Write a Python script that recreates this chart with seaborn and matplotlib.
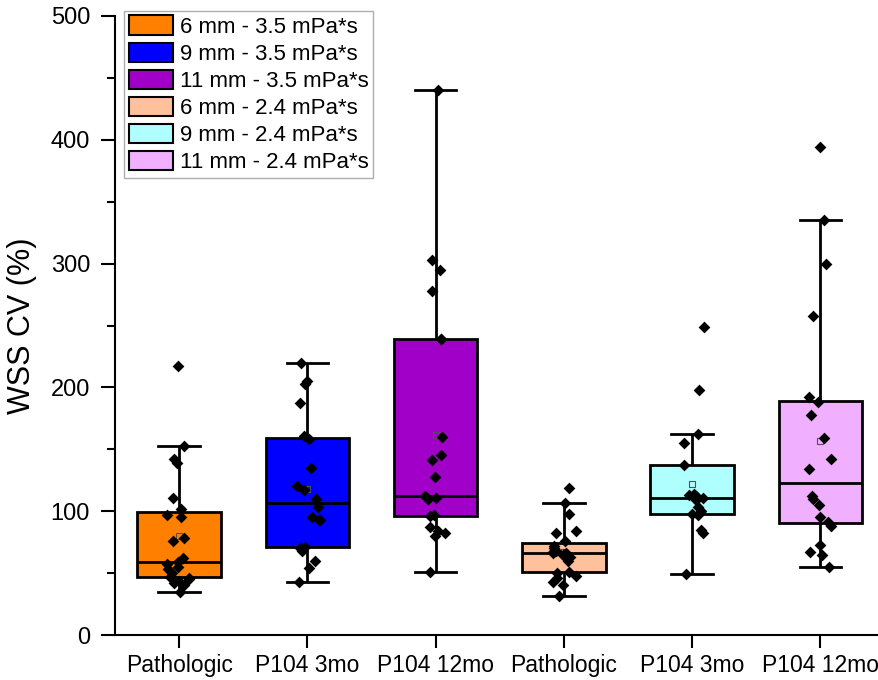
import numpy as np
import pandas as pd
import matplotlib
matplotlib.use("Agg")
import matplotlib.pyplot as plt
from matplotlib.patches import Patch
from matplotlib.ticker import MultipleLocator
import seaborn as sns

# Group names (legend) and the tick label under each box
groups = ["6 mm - 3.5 mPa*s", "9 mm - 3.5 mPa*s", "11 mm - 3.5 mPa*s",
          "6 mm - 2.4 mPa*s", "9 mm - 2.4 mPa*s", "11 mm - 2.4 mPa*s"]
tick_labels = ["Pathologic", "P104 3mo", "P104 12mo",
               "Pathologic", "P104 3mo", "P104 12mo"]
colors = ["#FF8000", "#0000FF", "#A000C8", "#FFC09C", "#B0FFFF", "#F0B0FF"]

# WSS CV (%) per case
cv_6mm_35 = [35, 40, 42, 44, 45, 46, 47, 50, 53, 55, 57, 59, 62, 76, 78, 95,
             97, 102, 111, 139, 142, 153, 217]
cv_9mm_35 = [43, 54, 60, 68, 70, 71, 93, 93, 95, 103, 110, 117, 120, 135, 158,
             161, 187, 203, 205, 220]
cv_11mm_35 = [51, 80, 82, 84, 87, 96, 97, 110, 110, 111, 112, 128, 141, 145,
              160, 239, 239, 278, 295, 303, 440]
cv_6mm_24 = [31.5, 40, 43, 46, 48, 50, 51, 60, 63, 65, 66, 66.5, 67, 68, 69,
             70, 72, 76, 82, 84, 98, 107, 118.5]
cv_9mm_24 = [49, 82, 85, 97, 98, 100, 103, 109, 110.5, 112, 113, 114, 137,
             155, 162, 198, 249]
cv_11mm_24 = [55, 65, 67, 73, 88, 91, 95, 105, 110, 112, 134, 142, 159, 178,
              188, 192, 258, 300, 335, 394]

series = [cv_6mm_35, cv_9mm_35, cv_11mm_35, cv_6mm_24, cv_9mm_24, cv_11mm_24]
df = pd.concat([pd.DataFrame({"group": g, "cv": v}) for g, v in zip(groups, series)],
               ignore_index=True)
palette = dict(zip(groups, colors))

plt.rcParams["font.family"] = ["Liberation Sans", "DejaVu Sans"]

fig = plt.figure(figsize=(8.79, 6.80), dpi=100)
ax = fig.add_axes([115 / 879, 45 / 680, 767 / 879, 619 / 680])

sns.boxplot(data=df, x="group", y="cv", hue="group", palette=palette, order=groups,
            hue_order=groups, legend=False, width=0.65, showfliers=False,
            saturation=1, whis=1.5, linewidth=2, linecolor="black", showmeans=True,
            meanprops=dict(marker="s", markerfacecolor="none",
                           markeredgecolor="#505050", markersize=5,
                           markeredgewidth=0.8),
            ax=ax)

np.random.seed(3)
sns.stripplot(data=df, x="group", y="cv", order=groups, color="black",
              marker="D", size=6, jitter=0.1, ax=ax, zorder=5)

ax.set_xlim(-0.5, 5.48)
ax.set_ylim(0, 500)
ax.set_xticks(range(len(groups)))
ax.set_xticklabels(tick_labels, fontsize=16.5)
ax.set_xlabel("")
ax.set_ylabel("WSS CV (%)", fontsize=22, labelpad=10)
ax.yaxis.set_major_locator(MultipleLocator(100))
ax.yaxis.set_minor_locator(MultipleLocator(50))
ax.tick_params(axis="y", which="major", labelsize=17, length=10, width=1.5,
               direction="out", pad=8)
ax.tick_params(axis="y", which="minor", length=6, width=1.5, direction="out")
ax.tick_params(axis="x", which="major", length=9, width=1.5, direction="out", pad=5)
for side in ["top", "right"]:
    ax.spines[side].set_visible(False)
for side in ["left", "bottom"]:
    ax.spines[side].set_linewidth(1.5)

handles = [Patch(facecolor=c, edgecolor="black", linewidth=1.5) for c in colors]
leg = ax.legend(handles, groups, loc="upper left", bbox_to_anchor=(0.012, 1.008),
                fontsize=16, frameon=True, fancybox=False, edgecolor="#999999",
                handlelength=2.0, handleheight=0.95, handletextpad=0.3,
                labelspacing=0.22, borderpad=0.2, borderaxespad=0.0)
leg.get_frame().set_linewidth(1.0)

fig.savefig("out.png", dpi=100)
